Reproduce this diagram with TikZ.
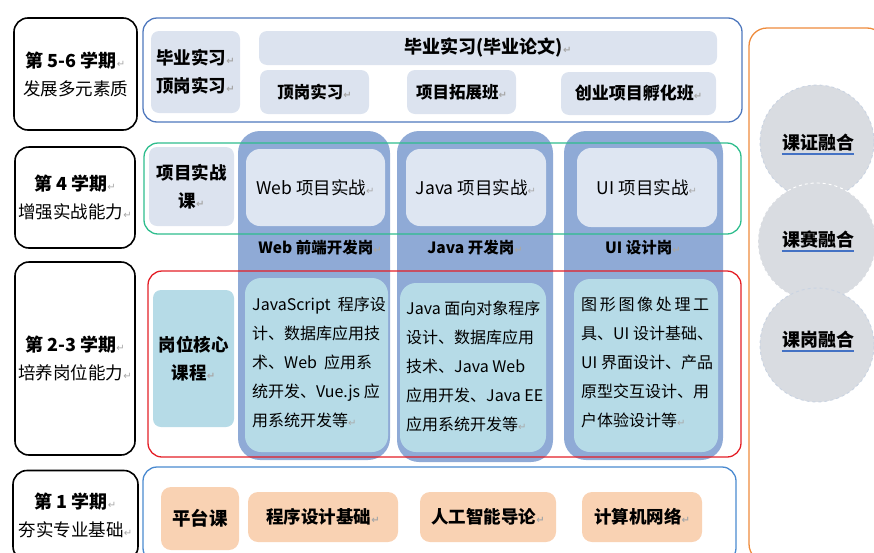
\documentclass[tikz,border=0pt]{standalone}
\usepackage{fontspec}
\setmainfont{Noto Sans CJK SC}
\newfontfamily\symf{DejaVu Sans}
\definecolor{lbox}{HTML}{DCE3EF}
\definecolor{colbg}{HTML}{8FAAD6}
\definecolor{projbox}{HTML}{DEE6F2}
\definecolor{cbox}{HTML}{B6DBE7}
\definecolor{peach}{HTML}{F9D2B3}
\definecolor{circ}{HTML}{D9DCE1}
\definecolor{circline}{HTML}{C9D3E1}
\definecolor{fblue}{HTML}{4F78BD}
\definecolor{fgreen}{HTML}{2EBD8D}
\definecolor{fred}{HTML}{E41E26}
\definecolor{fblue2}{HTML}{4A8AD0}
\definecolor{forange}{HTML}{EE8B3C}
\definecolor{ulblue}{HTML}{4472C4}
\definecolor{retgray}{HTML}{A8A8A8}
\newcommand\rmk{{\symf\fontsize{10}{10}\selectfont\color{retgray}↵}}
\begin{document}
\begin{tikzpicture}[x=1pt,y=-1pt,
  semester/.style={draw=black, line width=1.6pt, rounded corners=14pt, fill=white, align=center, inner sep=0pt, font=\fontsize{17.5}{28}\selectfont},
  frame/.style={line width=1.3pt, rounded corners=14pt, inner sep=0pt},
  lbl/.style={fill=lbox, rounded corners=8pt, align=center, inner sep=0pt, font=\bfseries\fontsize{17.5}{28}\selectfont},
  colbox/.style={fill=colbg, rounded corners=22pt, inner sep=0pt},
  proj/.style={fill=projbox, rounded corners=14pt, inner sep=0pt, font=\fontsize{17.5}{20}\selectfont},
  content/.style={fill=cbox, rounded corners=16pt, inner sep=0pt},
  ctext/.style={align=left, inner sep=0pt, font=\fontsize{16}{29}\selectfont},
  coltitle/.style={inner sep=0pt, font=\bfseries\fontsize{15.5}{18}\selectfont},
  peachbox/.style={fill=peach, rounded corners=10pt, inner sep=0pt, font=\bfseries\fontsize{17.5}{20}\selectfont},
  circle node/.style={circle, fill=circ, draw=circline, dashed, line width=0.9pt, minimum size=#1, inner sep=0pt},
  ctitle/.style={inner sep=0pt, font=\bfseries\fontsize{18}{20}\selectfont},
  uline/.style={draw=ulblue, line width=2.4pt}
]
\useasboundingbox (0,0) rectangle (874,552);

% semester boxes
\node[semester, minimum width=123, minimum height=112] (s56) at (75.5,74)
  {{\bfseries\fontsize{18}{28}\selectfont 第 5-6 学期}\rmk\\ 发展多元素质};
\node[semester, minimum width=120, minimum height=101] (s4) at (75,197.5)
  {{\bfseries\fontsize{18}{28}\selectfont 第 4 学期}\rmk\\ 增强实战能力\rmk};
\node[semester, minimum width=120, minimum height=193] (s23) at (75,358.5)
  {{\bfseries\fontsize{18}{28}\selectfont 第 2-3 学期}\rmk\\ 培养岗位能力\rmk};
\node[semester, minimum width=125, minimum height=90] (s1) at (75.5,515.5)
  {{\bfseries\fontsize{18}{30}\selectfont 第 1 学期}\rmk\\ 夯实专业基础\rmk};

% column backgrounds
\node[colbox, minimum width=152, minimum height=329] (colweb) at (314,295.5) {};
\node[colbox, minimum width=156, minimum height=331] (coljava) at (475,296.5) {};
\node[colbox, minimum width=159, minimum height=329] (colui) at (643.5,295.5) {};

% frames
\node[frame, draw=fblue, minimum width=599, minimum height=104] (ftop) at (442.5,70) {};
\node[frame, draw=fgreen, minimum width=597, minimum height=91] (fgreen) at (442.5,188.5) {};
\node[frame, draw=fred, minimum width=593, minimum height=186] (fred) at (444.5,364) {};
\node[frame, draw=fblue2, minimum width=593, minimum height=95] (fbot) at (439.5,514.5) {};
\node[frame, draw=forange, minimum width=136, minimum height=534, rounded corners=18pt] (forange) at (817,295) {};

% top row
\node[lbl, minimum width=89, minimum height=82] (biye) at (195.5,72) {毕业实习\rmk\\ 顶岗实习\rmk};
\node[lbl, minimum width=458, minimum height=34, font=\bfseries\fontsize{18}{20}\selectfont] (lunwen) at (488,48) {毕业实习(毕业论文)\rmk};
\node[lbl, minimum width=109, minimum height=44, font=\bfseries\fontsize{16.5}{20}\selectfont] (dinggang) at (314.5,92) {顶岗实习\rmk};
\node[lbl, minimum width=109, minimum height=44, font=\bfseries\fontsize{16.5}{20}\selectfont] (tuozhan) at (461.5,92) {项目拓展班\rmk};
\node[lbl, minimum width=155, minimum height=43, font=\bfseries\fontsize{17}{20}\selectfont] (chuangye) at (638.5,93.5) {创业项目孵化班\rmk};

% project row
\node[lbl, minimum width=85, minimum height=79] (xmsz) at (191.5,186.5) {项目实战\\ 课\rmk};
\node[proj, minimum width=139, minimum height=77] (pweb) at (315.5,187.5) {Web 项目实战\rmk};
\node[proj, minimum width=140, minimum height=77] (pjava) at (476,187.5) {Java 项目实战\rmk};
\node[proj, minimum width=140, minimum height=79] (pui) at (647,187.5) {UI 项目实战\rmk};

% column titles
\node[coltitle] (tweb) at (320,248) {Web 前端开发岗\rmk};
\node[coltitle] (tjava) at (475,248) {Java 开发岗\rmk};
\node[coltitle] (tui) at (643,248) {UI 设计岗\rmk};

% core course row
\node[lbl, fill=cbox, minimum width=81, minimum height=137] (hexin) at (193.5,358.5) {岗位核心\\ 课程\rmk};
\node[content, minimum width=143, minimum height=174] (cweb) at (316.5,365) {};
\node[content, minimum width=146, minimum height=169] (cjava) at (473,367.5) {};
\node[content, minimum width=144, minimum height=173] (cui) at (646,365.5) {};
\node[ctext, anchor=west] (cwebt) at (252,362.5)
  {JavaScript\ \ 程序设\\ 计、数据库应用技\\ 术、Web\ \ 应用系\\ 统开发、Vue.js 应\\ 用系统开发等\rmk};
\node[ctext, anchor=west] (cjavat) at (406,366.5)
  {Java 面向对象程序\\ 设计、数据库应用\\ 技术、Java Web\\ 应用开发、Java EE\\ 应用系统开发等\rmk};
\node[ctext, anchor=west] (cuit) at (581,362.5)
  {图\,形\,图\,像\,处\,理\,工\\ 具、UI 设计基础、\\ UI 界面设计、产品\\ 原型交互设计、用\\ 户体验设计等\rmk};

% platform row
\node[peachbox, minimum width=78, minimum height=63, font=\bfseries\fontsize{18.5}{20}\selectfont] (pingtai) at (200,518.5) {平台课};
\node[peachbox, minimum width=150, minimum height=50] (chengxu) at (323,517) {程序设计基础\rmk};
\node[peachbox, minimum width=136, minimum height=50] (rengong) at (488,517) {人工智能导论\rmk};
\node[peachbox, minimum width=120, minimum height=50] (wangluo) at (642,517) {计算机网络\rmk};

% integration circles
\node[circle node=114] (c1) at (817,142) {};
\node[circle node=118, draw=white] (c2) at (817,242) {};
\node[circle node=114] (c3) at (817,345) {};
\node[ctitle] (c1t) at (818,143) {课证融合};
\node[ctitle] (c2t) at (818,240) {课赛融合};
\node[ctitle] (c3t) at (818,340) {课岗融合};
\draw[uline] ([yshift=-4pt]c1t.base west) -- ([yshift=-4pt]c1t.base east);
\draw[uline] ([yshift=-4pt]c2t.base west) -- ([yshift=-4pt]c2t.base east);
\draw[uline] ([yshift=-4pt]c3t.base west) -- ([yshift=-4pt]c3t.base east);
\end{tikzpicture}
\end{document}
